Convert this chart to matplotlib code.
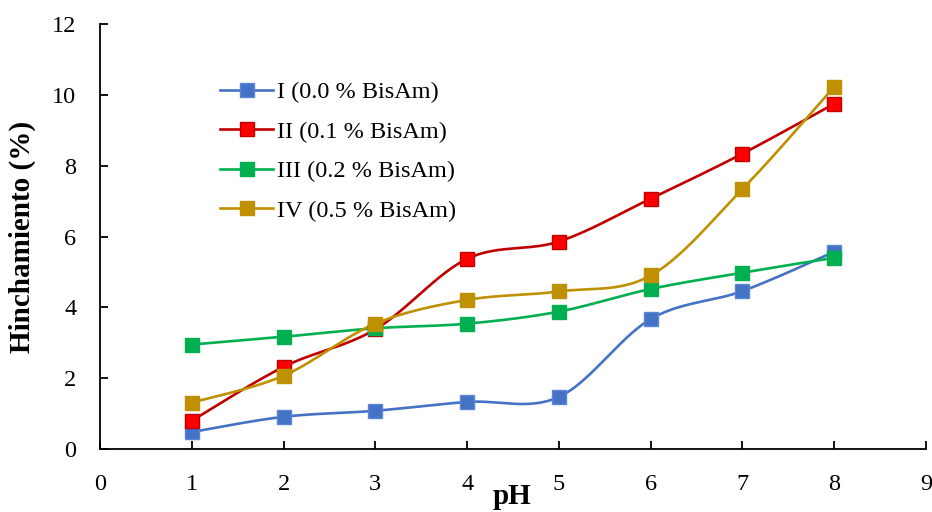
"""Swelling vs pH for hydrogels with different BisAm content (smoothed lines)"""
import matplotlib
matplotlib.use('Agg')
import matplotlib.pyplot as plt
import numpy as np

plt.rcParams['font.family'] = ['Liberation Serif', 'DejaVu Serif']

ph = [1, 2, 3, 4, 5, 6, 7, 8]
gel_i = [0.48, 0.91, 1.08, 1.33, 1.47, 3.67, 4.46, 5.57]
gel_ii = [0.80, 2.32, 3.38, 5.37, 5.86, 7.07, 8.34, 9.75]
gel_iii = [2.95, 3.17, 3.41, 3.54, 3.88, 4.52, 4.98, 5.40]
gel_iv = [1.31, 2.07, 3.54, 4.21, 4.45, 4.90, 7.34, 10.23]

labels = ['I (0.0 % BisAm)', 'II (0.1 % BisAm)', 'III (0.2 % BisAm)', 'IV (0.5 % BisAm)']
line_colors = ['#4472C4', '#C00000', '#00B050', '#BF9000']
face_colors = ['#4472C4', '#FF0000', '#00B050', '#BF9000']
edge_colors = ['#5B86D6', '#C00000', '#00B050', '#BF9000']

FS = 17.5
LABEL_FS = 21


def smooth_curve(x, y, n=40):
    """Bezier smoothing through every point, like spreadsheet 'smoothed line'"""
    p = np.column_stack([x, y]).astype(float)
    p_ext = np.vstack([p[0], p, p[-1]])
    t = np.linspace(0, 1, n)[:, None]
    pieces = []
    for i in range(len(p) - 1):
        p0, p1 = p_ext[i + 1], p_ext[i + 2]
        c1 = p0 + (p_ext[i + 2] - p_ext[i]) / 6
        c2 = p1 - (p_ext[i + 3] - p_ext[i + 1]) / 6
        seg = ((1 - t) ** 3) * p0 + 3 * ((1 - t) ** 2) * t * c1 + 3 * (1 - t) * t ** 2 * c2 + t ** 3 * p1
        pieces.append(seg if i == 0 else seg[1:])
    curve = np.vstack(pieces)
    return curve[:, 0], curve[:, 1]


fig = plt.figure(figsize=(9.32, 5.12), dpi=100)
ax = fig.add_axes([0.1073, 0.123, 0.8863, 0.830])

for series, label, lc, fc, ec in zip([gel_i, gel_ii, gel_iii, gel_iv], labels,
                                     line_colors, face_colors, edge_colors):
    xs, ys = smooth_curve(ph, series)
    ax.plot(xs, ys, color=lc, lw=1.9, zorder=2)
    ax.plot(ph, series, ls='none', marker='s', ms=10.5, mfc=fc, mec=ec, mew=1, zorder=3)
    # proxy artist for the legend entry
    ax.plot([], [], color=lc, lw=1.9, marker='s', ms=10.5, mfc=fc, mec=ec, mew=1, label=label)

ax.set_xlim(0, 9)
ax.set_ylim(0, 12)
ax.set_xticks(range(0, 10))
ax.set_yticks(range(0, 13, 2))
ax.spines['top'].set_visible(False)
ax.spines['right'].set_visible(False)
for side in ('left', 'bottom'):
    ax.spines[side].set_linewidth(1.3)
ax.tick_params(axis='both', direction='in', length=6, width=1.3, labelsize=FS)
ax.tick_params(axis='x', pad=18)
ax.tick_params(axis='y', pad=17)

ax.set_xlabel('pH', fontsize=LABEL_FS, fontweight='bold')
ax.xaxis.set_label_coords(0.499, -0.079)
ax.set_ylabel('Hinchamiento (%)', fontsize=LABEL_FS, fontweight='bold')
ax.yaxis.set_label_coords(-0.078, 0.5)

ax.legend(loc='upper left', bbox_to_anchor=(0.145, 0.866), frameon=False, fontsize=FS,
          handlelength=2.2, handletextpad=0.15, labelspacing=0.72, borderpad=0, borderaxespad=0)

fig.savefig('out.png', dpi=100)
